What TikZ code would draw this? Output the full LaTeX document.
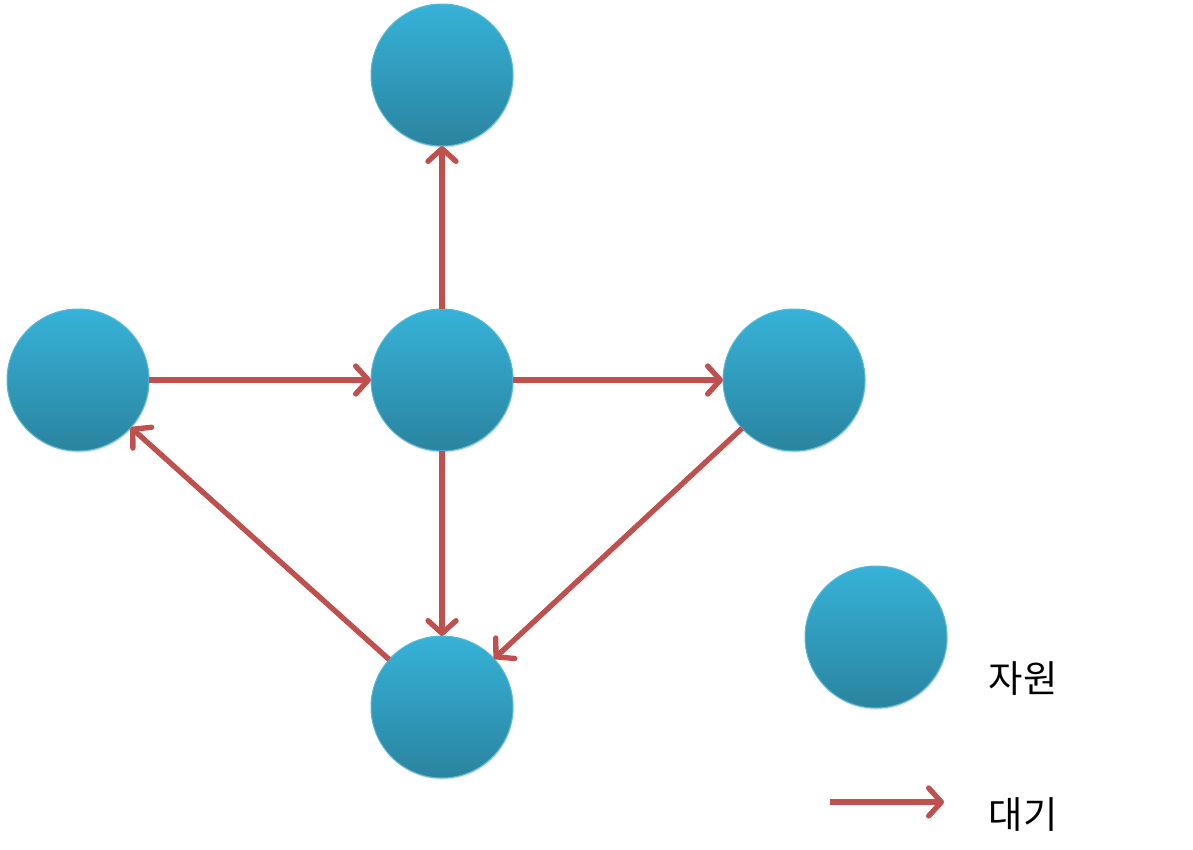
\documentclass[tikz,border=0pt]{standalone}
\usepackage{fontspec}
\newfontfamily\kor{Noto Sans CJK KR}
\usetikzlibrary{arrows.meta,shadows}
\definecolor{restop}{HTML}{36B2D8}
\definecolor{resbot}{HTML}{2A849F}
\definecolor{resline}{HTML}{5BB9D6}
\definecolor{waitred}{HTML}{C0504D}
\tikzset{every picture/.style={line width=0.75pt}}
\tikzset{
  resource/.style={circle,minimum size=106.5pt,inner sep=0pt,outer sep=0pt,
    top color=restop,bottom color=resbot,draw=resline,line width=0.75pt,
    drop shadow={opacity=0.25,shadow xshift=0.6pt,shadow yshift=-1.2pt}},
  wait/.style={draw=waitred,line width=4pt,
    -{Straight Barb[length=9.5pt,width=21pt,round]}},
  label/.style={font=\kor\fontsize{28}{32}\selectfont,inner sep=0.75pt}
}
\begin{document}
\begin{tikzpicture}[x=0.75pt,y=0.75pt,yscale=-1,xscale=1]
\useasboundingbox (0,0) rectangle (1193,850);

\node[resource] (top) at (442,75) {};
\node[resource] (left) at (78,380) {};
\node[resource] (mid) at (442,380) {};
\node[resource] (right) at (794,380) {};
\node[resource] (bottom) at (442,707) {};
\node[resource] (key) at (876,637) {};

\draw[wait] (left) -- (mid);
\draw[wait] (mid) -- (right);
\draw[wait] (mid) -- (top);
\draw[wait] (mid) -- (bottom);
\draw[wait] (right) -- (bottom);
\draw[wait] (bottom) -- (left);

\coordinate (keyfrom) at (830,802);
\coordinate (keyto) at (944,802);
\draw[wait] (keyfrom) -- (keyto);

\node[label] (restext) at (1023,679) {자원};
\node[label] (waittext) at (1023,815) {대기};

\end{tikzpicture}
\end{document}
